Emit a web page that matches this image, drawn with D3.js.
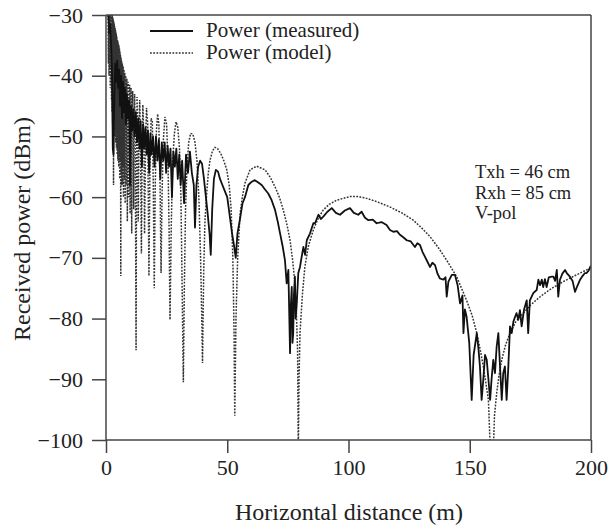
<!DOCTYPE html>
<html><head><meta charset="utf-8">
<script src="https://d3js.org/d3.v7.min.js"></script>
<style>
body{margin:0;background:#fff;}
svg text{font-family:"Liberation Serif","Times New Roman",serif;fill:#222;}
</style></head>
<body><svg id="c" width="608" height="526"></svg>
<script>
// ---- data ----
const xTicks = [0, 50, 100, 150, 200];
const yTicks = [-30, -40, -50, -60, -70, -80, -90, -100];
const seriesNames = ["Power (measured)", "Power (model)"];
const annotationLines = ["Txh = 46 cm", "Rxh = 85 cm", "V-pol"];

// model (two-ray) curve [distance m, power dBm]
const modelSeries = [
[0.8,-29],[1.0,-38],[1.1,-29.5],[1.25,-40],[1.35,-29.6],[1.5,-39],[1.6,-29.8],[1.75,-42],[1.85,-29.9],[2.0,-41],[2.1,-30],[2.25,-44],[2.35,-30],[2.5,-46],[2.56,-30],
[2.62,-44],[2.68,-30.2],[2.74,-48],[2.8,-30.4],[2.86,-45],[2.92,-30.6],[2.98,-47],[3.04,-30.8],[3.1,-58],[3.16,-31],[3.22,-50],[3.28,-31.3],[3.35,-46],[3.41,-31.5],
[3.48,-49],[3.54,-31.8],[3.61,-47],[3.67,-32],[3.74,-50],[3.8,-32.2],[3.87,-48],[3.93,-32.5],[4.0,-51],[4.07,-32.8],[4.15,-49],[4.22,-33.1],[4.3,-52],[4.37,-33.4],
[4.45,-50],[4.52,-33.7],[4.6,-53],[4.67,-34],[4.75,-51],[4.82,-34.2],[4.9,-54],[4.97,-34.5],[5.05,-52],[5.15,-34.8],[5.25,-55],[5.35,-35],[5.45,-53],[5.55,-35.5],
[5.65,-57],[5.75,-36],[5.85,-54],[5.95,-36.5],[6.1,-73],[6.2,-37],[6.35,-56],[6.45,-37.5],[6.6,-58],[6.75,-38],[6.9,-55],[7.0,-39],[7.1,-38.5],[7.2,-60],[7.3,-40],
[7.4,-39],[7.5,-57],[7.65,-40.5],[7.75,-39.5],[7.9,-61],[8.05,-41],[8.15,-40],[8.3,-58],[8.45,-42],[8.6,-40.5],[8.8,-64],[9.0,-43],[9.15,-41],[9.35,-60],[9.55,-44],
[9.75,-41.5],[9.95,-62.7],[10.15,-45],[10.35,-42],[10.6,-66],[10.8,-47],[11.0,-42.5],[11.2,-48],[11.4,-62],[11.6,-48],[11.8,-43],[12.05,-50],[12.4,-85.2],[12.6,-55],
[12.8,-43.5],[13.0,-47],[13.3,-64],[13.6,-49],[13.9,-44],[14.2,-50],[14.6,-69.3],[14.9,-52],[15.2,-44.8],[15.6,-50],[15.9,-66],[16.3,-52],[16.7,-45.3],[17.2,-48],
[17.7,-73],[18.1,-56],[18.6,-47],[19.1,-47.5],[19.5,-58],[19.9,-75],[20.3,-58],[20.8,-49],[21.3,-46.3],[21.8,-48],[22.3,-58],[22.7,-72.5],[23.1,-60],[23.6,-51],
[24.3,-46.8],[25.0,-48],[25.6,-55],[26.0,-65],[26.4,-80.2],[26.9,-65],[27.5,-54],[28.2,-49.5],[28.9,-47.6],[29.6,-48.5],[30.3,-52],[30.9,-60],[31.4,-75],[31.9,-90.5],
[32.3,-75],[32.8,-62],[33.4,-55],[34.1,-51],[34.9,-49.5],[35.8,-49.6],[36.7,-51],[37.5,-54],[38.3,-60],[39.0,-70],[39.5,-80],[39.8,-87.3],[40.3,-72],[40.8,-64],
[41.5,-59.4],[42.2,-56],[42.9,-53.9],[43.9,-52.4],[44.9,-51.8],[46.0,-52],[47.3,-52.8],[48.6,-54],[49.8,-55.5],[50.8,-58],[51.6,-62],[52.3,-70],[52.8,-82],[53.1,-96],
[53.6,-80],[54.3,-70],[55.3,-62.7],[56.3,-59.8],[57.3,-57.7],[59.4,-55.5],[62.1,-54.9],[65.6,-55.5],[67.7,-56.7],[69.7,-58.3],[71.5,-60],[73.1,-62.1],[74.6,-64.5],
[75.9,-67.1],[77.0,-70.5],[77.9,-74.2],[78.5,-79],[79.0,-85.2],[79.3,-102],[79.6,-90],[80.0,-82.4],[81.0,-76],[82.0,-71.5],[83.5,-68],[85.5,-65.4],[87.5,-63.5],
[89.6,-62.1],[92.0,-61.2],[95.1,-60.5],[100.6,-59.9],[104.0,-59.9],[107.5,-60.2],[112.0,-60.8],[117.0,-61.6],[122.0,-62.6],[126.7,-63.8],[130.0,-65],[133.6,-66.5],
[137.0,-68.3],[140.5,-70.4],[144.6,-73.1],[148.7,-77],[151.0,-79.5],[152.9,-82.4],[154.5,-85.5],[155.6,-87.9],[156.8,-91],[157.7,-93.4],[158.6,-103],[159.6,-103],
[160.2,-96],[161.1,-92.3],[162.0,-89.5],[163.2,-86.8],[164.8,-84.3],[166.6,-82.4],[169.0,-80.5],[172.1,-79.1],[175.0,-77.8],[179.0,-76.4],[183.5,-75.1],[188.6,-73.9],
[194.0,-72.8],[199.6,-71.7],[200.0,-71.6]
];

// measured curve [distance m, power dBm]
const measuredSeries = [
[1.0,-30],[1.4,-33],[1.8,-31.5],[2.2,-36],[2.5,-40],[2.8,-52],[3.1,-53],[3.4,-44],[3.8,-38],[4.2,-41],[4.6,-37.5],[5.0,-42],[5.4,-39],[5.8,-45],[6.2,-40],
[6.6,-47],[7.0,-41],[7.4,-46],[7.8,-42],[8.2,-48],[8.6,-43],[9.0,-47],[9.5,-44],[9.9,-58],[10.3,-45],[10.8,-49],[11.3,-45.5],[11.8,-50],[12.3,-46],[12.8,-51],
[13.3,-47],[13.8,-52],[14.3,-47.5],[14.8,-55],[15.3,-48],[15.8,-52],[16.3,-48.5],[16.8,-53],[17.3,-49],[17.8,-56],[18.3,-49.5],[18.8,-53],[19.4,-50],[20.0,-55],
[20.6,-50],[21.2,-54],[21.8,-50.5],[22.4,-57],[23.0,-51],[23.6,-54],[24.2,-51],[24.8,-56],[25.4,-51.5],[26.0,-55],[26.6,-52],[27.2,-60],[27.8,-52.5],[28.4,-55],
[29.0,-52],[29.6,-57],[30.2,-53],[30.8,-58],[31.4,-54],[32.2,-61],[33.0,-53],[33.8,-56],[34.6,-52.5],[35.4,-56],[36.2,-58],[36.7,-65],[37.3,-58],[38.0,-55],
[38.8,-54],[39.6,-54.5],[40.4,-57],[41.2,-60],[42.0,-63],[42.7,-66],[43.2,-69.5],[43.8,-62],[44.5,-57],[45.3,-55.5],[46.2,-55.8],[47.0,-57],[48.0,-58],[49.0,-59],
[50.0,-60],[51.0,-63],[52.0,-66],[52.8,-68],[53.5,-70],[54.2,-66],[55.3,-63.5],[56.3,-61],[57.3,-60],[58.7,-58],[60.0,-57.5],[61.2,-57.2],[62.5,-57.5],[64.2,-58],
[65.5,-58.7],[66.9,-59.4],[68.3,-60.5],[69.7,-62.1],[70.8,-64],[71.8,-66],[72.8,-68],[73.8,-70.4],[74.5,-74.2],[75.2,-72],[75.9,-85.7],[76.2,-78],[76.6,-74.8],
[76.9,-84],[77.2,-82.4],[77.5,-76],[77.9,-73.1],[78.2,-80],[78.6,-78],[79.3,-72.5],[80.0,-71.5],[80.7,-69.8],[81.4,-68.2],[82.1,-69.5],[82.8,-67.1],[84.1,-66],
[85.5,-64.3],[86.2,-64.3],[87.6,-62.9],[88.6,-63.6],[89.6,-63.2],[91.3,-62.4],[93.1,-61.8],[94.8,-62.6],[96.5,-62.9],[98.5,-62.2],[100.6,-61.8],[102.2,-62.6],
[104.0,-62.9],[105.4,-62.4],[106.8,-63.4],[108.2,-63.8],[110.0,-63.7],[111.6,-64.3],[113.6,-64.1],[115.7,-64.6],[117.1,-65.4],[118.5,-65.7],[120.0,-65.6],[121.2,-66.2],
[122.6,-66.6],[124.0,-67.1],[125.7,-67.3],[127.4,-68.2],[128.4,-67.6],[129.5,-67.9],[130.5,-69],[131.5,-69.8],[132.5,-70.6],[133.6,-71.5],[134.6,-70.8],[135.7,-71.2],
[136.7,-72.6],[137.7,-73.4],[139.1,-73.6],[140.0,-73.2],[140.5,-76.4],[141.2,-73.9],[142.6,-72.8],[143.9,-72.8],[145.0,-74.5],[146.0,-77.5],[147.0,-76.2],[147.4,-82.4],
[148.0,-78.5],[148.7,-79.7],[149.8,-84],[150.8,-93.4],[151.6,-86],[152.9,-82.4],[153.6,-85],[154.2,-87.9],[154.9,-93.4],[155.6,-90],[156.3,-86],[157.0,-86.8],
[157.7,-90],[158.4,-93.4],[159.0,-90],[159.7,-86.8],[160.4,-89],[161.1,-84.6],[161.8,-82.4],[162.5,-88],[163.2,-93.4],[163.8,-89],[164.5,-87.9],[165.2,-93.4],
[165.9,-88],[166.6,-81.3],[167.3,-82.4],[168.0,-80.5],[168.7,-79.7],[169.3,-79.1],[170.0,-80.2],[170.7,-78.6],[171.4,-81.3],[172.4,-78.5],[173.5,-77],[174.1,-82.4],
[174.8,-77],[176.2,-75.8],[177.6,-75.3],[178.3,-73.6],[179.0,-74.5],[179.7,-73.6],[180.3,-74.8],[181.0,-73.5],[181.7,-74.8],[182.6,-73.2],[183.8,-73.1],[184.5,-73.1],
[185.2,-73.8],[185.9,-72],[186.5,-76.4],[187.2,-73.6],[188.2,-72.6],[189.3,-72],[190.0,-72.5],[191.3,-73.1],[192.4,-73.8],[193.4,-75.6],[194.4,-74.6],[195.5,-73.6],
[196.5,-73],[197.5,-72.5],[198.2,-72.5],[199.0,-72.1],[199.9,-71.3]
];

// ---- layout ----
const svg = d3.select("#c");
const L = 106, R = 591, T = 15, B = 440;
const x = d3.scaleLinear().domain([0, 200]).range([L, R]);
const y = d3.scaleLinear().domain([-100, -30]).range([B, T]);

svg.append("defs").append("clipPath").attr("id","clip")
  .append("rect").attr("x",L).attr("y",T).attr("width",R-L).attr("height",B-T);

const line = d3.line().x(d=>x(d[0])).y(d=>y(d[1]));

const plot = svg.append("g").attr("clip-path","url(#clip)");
plot.append("path").datum(modelSeries).attr("d",line)
  .attr("fill","none").attr("stroke","#333").attr("stroke-width",1.5)
  .attr("stroke-dasharray","1.8,1.4");
plot.append("path").datum(measuredSeries).attr("d",line)
  .attr("fill","none").attr("stroke","#111").attr("stroke-width",1.8)
  .attr("stroke-linejoin","round");

// frame
svg.append("line").attr("x1",L).attr("x2",R).attr("y1",T).attr("y2",T).attr("stroke","#444").attr("stroke-width",1.5);
svg.append("line").attr("x1",R).attr("x2",R).attr("y1",T).attr("y2",B).attr("stroke","#444").attr("stroke-width",1.5);

// axes
const xAxis = d3.axisBottom(x).tickValues(xTicks).tickSize(13).tickPadding(6).tickSizeOuter(0).tickFormat(d3.format("d"));
const gx = svg.append("g").attr("transform",`translate(0,${B})`).call(xAxis);
const yAxis = d3.axisLeft(y).tickValues(yTicks).tickSize(14).tickPadding(9).tickSizeOuter(0)
  .tickFormat(d => d < 0 ? "\u2212" + Math.abs(d) : d);
const gy = svg.append("g").attr("transform",`translate(${L},0)`).call(yAxis);
[gx, gy].forEach(g => {
  g.selectAll("path,line").attr("stroke","#444").attr("stroke-width",1.5);
  g.selectAll("text").attr("font-size",22).attr("fill","#222")
   .attr("font-family","Liberation Serif, Times New Roman, serif");
});
gx.select(".domain").attr("d",`M${L},0H${R}`);
gy.select(".domain").attr("d",`M0,${T}V${B+0}`);

// axis titles
svg.append("text").attr("x",349).attr("y",520).attr("text-anchor","middle")
  .attr("font-size",24).text("Horizontal distance (m)");
svg.append("text").attr("transform","translate(30,229) rotate(-90)").attr("text-anchor","middle")
  .attr("font-size",24).text("Received power (dBm)");

// legend
const leg = svg.append("g");
seriesNames.forEach((n,i) => {
  const yy = 31 + i*22;
  const l = leg.append("line").attr("x1",150).attr("x2",193).attr("y1",yy).attr("y2",yy)
    .attr("stroke", i===0 ? "#111" : "#333").attr("stroke-width", i===0 ? 1.8 : 1.5);
  if (i===1) l.attr("stroke-dasharray","1.8,1.4");
  leg.append("text").attr("x",206).attr("y",yy+6).attr("font-size",21).text(n);
});

// annotation
annotationLines.forEach((t,i) => {
  svg.append("text").attr("x",475).attr("y",178 + i*20.5).attr("font-size",18.5).text(t);
});
</script></body></html>
